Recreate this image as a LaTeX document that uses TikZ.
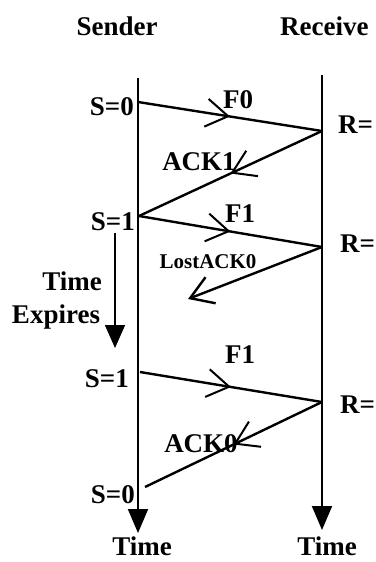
\documentclass[tikz,border=0pt]{standalone}
\usepackage{fontspec}
\setmainfont{Liberation Serif}
\usetikzlibrary{arrows.meta, decorations.markings}

\begin{document}
\begin{tikzpicture}[
        x=1pt, y=-1pt,
        font=\fontsize{27}{29}\selectfont\bfseries,
        timeline/.style={line width=2pt, -{Triangle[length=24pt, width=20pt]}},
        msg/.style={
            line width=2.4pt,
            postaction={decorate},
            decoration={markings, mark=at position 0.5 with
                {\arrow[line width=2pt]{Straight Barb[length=22pt, width=28pt]}}}
        },
        lostmsg/.style={line width=2.4pt, -{Straight Barb[length=22pt, width=28pt]}},
        lbl/.style={inner sep=0pt, anchor=base},
        state/.style={inner sep=0pt, anchor=base east},
        rstate/.style={inner sep=0pt, anchor=base west}
    ]

    \useasboundingbox (0,0) rectangle (375,562);

    % Headers
    \node[lbl] (sender) at (117,35) {Sender};
    \node[inner sep=0pt, anchor=base west] (receiver) at (280,35) {Receive};

    % Time lines
    \coordinate (stop) at (138,78);
    \coordinate (sbot) at (138,533);
    \coordinate (rtop) at (322,75);
    \coordinate (rbot) at (322,530);

    \draw[timeline] (stop) -- (sbot);
    \draw[timeline] (rtop) -- (rbot);

    \node[lbl] (stime) at (142,555) {Time};
    \node[lbl] (rtime) at (327,555) {Time};

    % Events on the sender side
    \coordinate (s0) at (138,102);
    \coordinate (s1) at (139,216);
    \coordinate (s2) at (140,372);
    \coordinate (s3) at (145,487);

    \node[state] (s0lbl) at (134,115) {S=0};
    \node[state] (s1lbl) at (135,230) {S=1};
    \node[state] (s2lbl) at (129,387) {S=1};
    \node[state] (s3lbl) at (135,503) {S=0};

    % Events on the receiver side
    \coordinate (r0) at (322,131);
    \coordinate (r1) at (322,247);
    \coordinate (r2) at (322,402);

    \node[rstate] (r0lbl) at (338,133) {R=};
    \node[rstate] (r1lbl) at (340,252) {R=};
    \node[rstate] (r2lbl) at (340,413) {R=};

    % Frames and acknowledgements
    \coordinate (lostend) at (188,299);

    \draw[msg] (s0) -- (r0);
    \draw[msg] (r0) -- (s1);
    \draw[msg] (s1) -- (r1);
    \draw[lostmsg] (r1) -- (lostend);
    \draw[msg] (s2) -- (r2);
    \draw[msg] (r2) -- (s3);

    \node[lbl] (f0) at (238,108) {F0};
    \node[lbl] (ack1) at (199,170) {ACK1};
    \node[lbl] (f1) at (240,222) {F1};
    \node[lbl, font=\fontsize{21}{23}\selectfont\bfseries] (lost) at (208,268) {LostACK0};
    \node[lbl] (f1b) at (240,363) {F1};
    \node[lbl] (ack0) at (201,452) {ACK0};

    % Timeout
    \coordinate (tetop) at (115,233);
    \coordinate (tebot) at (115,348);
    \draw[line width=1.5pt, -{Triangle[length=23pt, width=20pt]}] (tetop) -- (tebot);

    \node[lbl] (timeout) at (72,290) {Time};
    \node[lbl] (expires) at (56,323) {Expires};

\end{tikzpicture}
\end{document}
